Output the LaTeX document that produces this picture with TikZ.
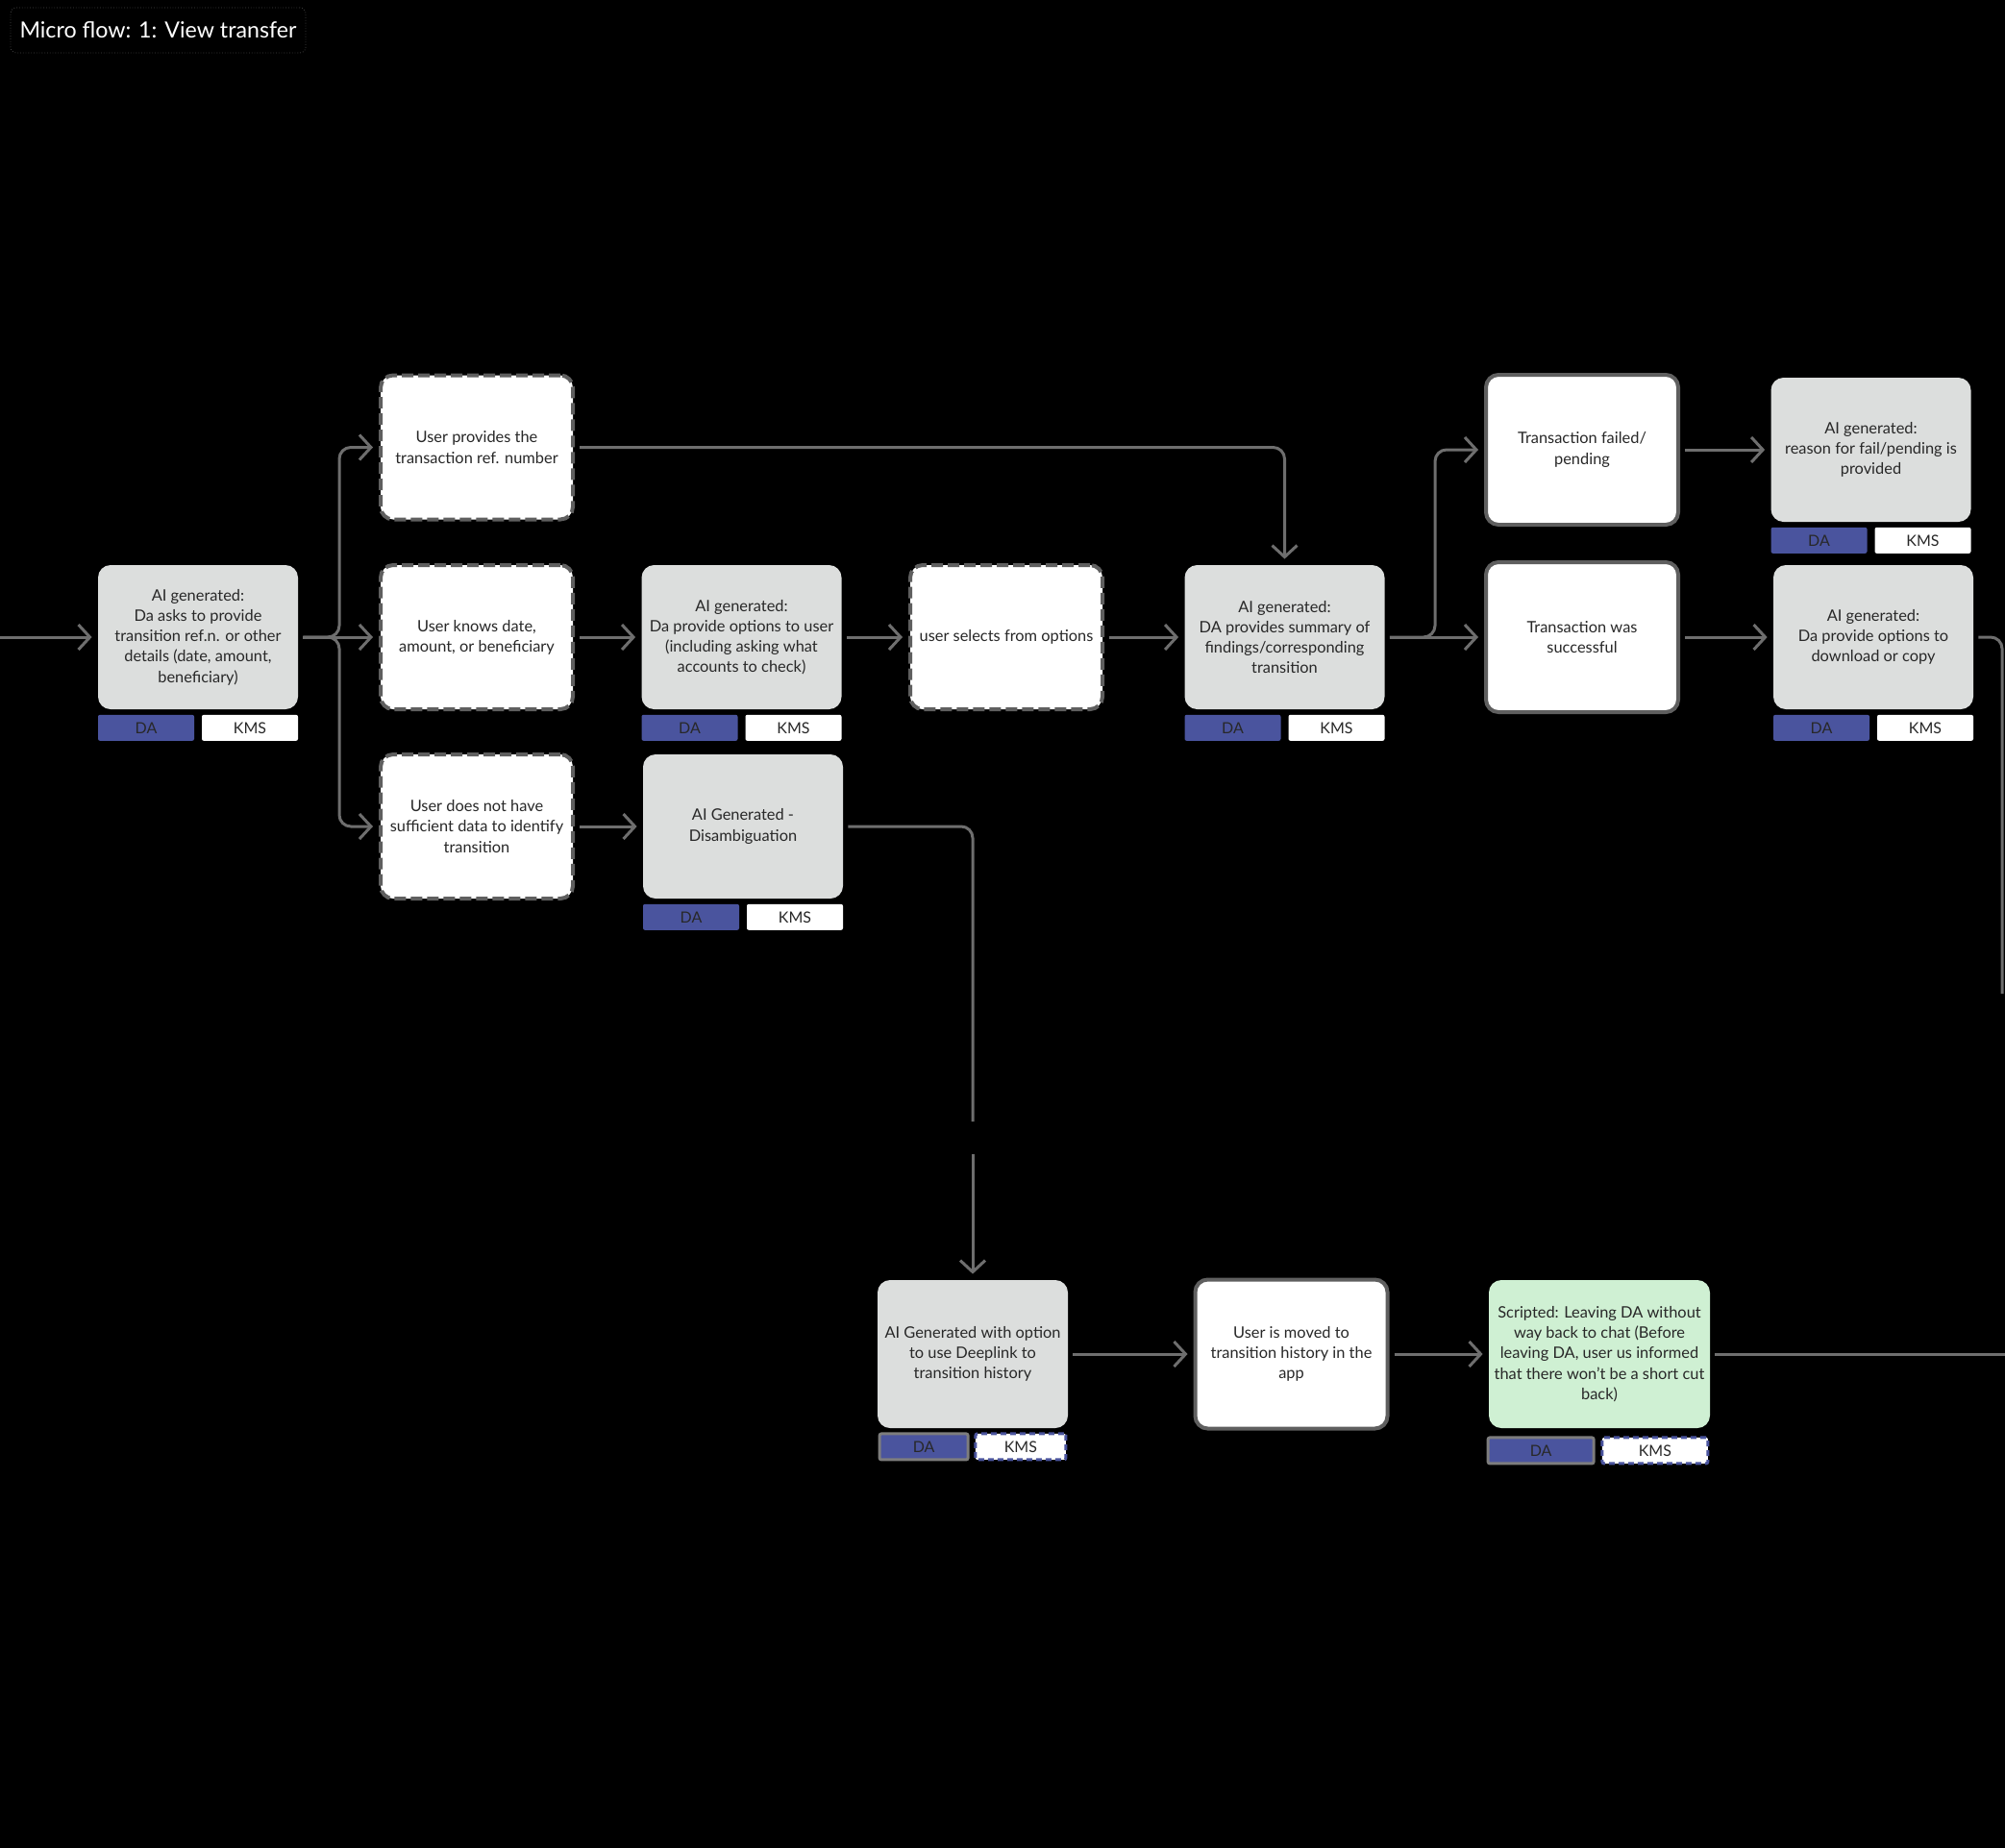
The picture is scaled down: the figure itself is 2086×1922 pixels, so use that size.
\documentclass[tikz,border=0pt]{standalone}
\usepackage{fontspec}
\setmainfont{Lato}
\usetikzlibrary{arrows.meta,positioning}
\definecolor{boxgray}{RGB}{220,222,221}
\definecolor{linegray}{RGB}{110,110,110}
\definecolor{edgegray}{RGB}{95,95,95}
\definecolor{tagedge}{RGB}{125,125,125}
\definecolor{titleedge}{RGB}{70,70,70}
\definecolor{dablue}{RGB}{74,84,158}
\definecolor{mint}{RGB}{207,240,211}
\definecolor{ink}{RGB}{40,40,40}
\tikzset{
  box/.style={rounded corners=6.5pt,minimum width=#1,minimum height=75pt,align=center,
    font=\fontsize{8.2}{10.6}\selectfont,text=ink,inner sep=2pt},
  box/.default=104pt,
  aibox/.style={box=#1,fill=boxgray},
  aibox/.default=104pt,
  userbox/.style={box=100pt,fill=white,draw=edgegray,line width=2pt,dash pattern=on 6pt off 2.5pt},
  endbox/.style={box=100pt,fill=white,draw=edgegray,line width=2pt},
  tagbox/.style={rounded corners=1pt,minimum width=#1,minimum height=13.5pt,inner sep=0pt,
    font=\fontsize{8}{9}\selectfont,text=ink},
  tagbox/.default=50pt,
  datag/.style={tagbox=#1,fill=dablue},
  datag/.default=50pt,
  kmstag/.style={tagbox=#1,fill=white},
  kmstag/.default=50pt,
  title/.style={draw=titleedge,densely dotted,thin,rounded corners=3pt,fill=black,text=white,
    minimum width=153.5pt,minimum height=23.5pt,inner sep=0pt,font=\fontsize{11.6}{13}\selectfont},
  flow/.style={draw=linegray,line width=1.5pt,rounded corners=6pt,shorten <=2.5pt,shorten >=3pt,
    -{Straight Barb[length=6pt,width=13pt]}},
}
\begin{document}
\begin{tikzpicture}[x=0.5pt,y=-0.5pt]
  \useasboundingbox (0,0) rectangle (2086,1922);
  \fill[black] (-6,-6) rectangle (2092,1928);
  \node[title] (title) at (164.5,31.5) {Micro flow: 1: View transfer};

  \node[aibox] (ask) at (206,663) {AI generated:\\Da asks to provide\\transition ref.n. or other\\details (date, amount,\\beneficiary)};
  \node[userbox] (ref) at (496,465.5) {User provides the\\transaction ref. number};
  \node[userbox] (knows) at (496,663) {User knows date,\\amount, or beneficiary};
  \node[userbox] (nodata) at (496,860) {User does not have\\sufficient data to identify\\transition};
  \node[aibox] (opts) at (771.5,663) {AI generated:\\Da provide options to user\\(including asking what\\accounts to check)};
  \node[aibox] (disamb) at (773,860) {AI Generated -\\Disambiguation};
  \node[userbox] (select) at (1047,663) {user selects from options};
  \node[aibox] (summary) at (1336.5,663) {AI generated:\\DA provides summary of\\findings/corresponding\\transition};
  \node[endbox,minimum height=78pt] (failed) at (1646,468) {Transaction failed/\\pending};
  \node[endbox,minimum height=78pt] (success) at (1646,663) {Transaction was\\successful};
  \node[aibox] (reason) at (1946.5,468) {AI generated:\\reason for fail/pending is\\provided};
  \node[aibox] (download) at (1949,663) {AI generated:\\Da provide options to\\download or copy};
  \node[aibox=99pt,minimum height=77pt] (deep) at (1012,1409) {AI Generated with option\\to use Deeplink to\\transition history};
  \node[endbox,minimum height=77.5pt] (moved) at (1343.5,1409) {User is moved to\\transition history in the\\app};
  \node[box=115pt,minimum height=77pt,fill=mint] (scripted) at (1664,1409) {Scripted: Leaving DA without\\way back to chat (Before\\leaving DA, user us informed\\that there won't be a short cut\\back)};

  \foreach \b in {ask,opts,disamb,summary,reason,download}{
    \node[datag,below right=2.5pt and 0pt of \b.south west] (\b-da) {DA};
    \node[kmstag,below left=2.5pt and 0pt of \b.south east] (\b-kms) {KMS};
  }
  \node[datag=46pt,draw=tagedge,line width=1.5pt,below right=2pt and 0.5pt of deep.south west] (deep-da) {DA};
  \node[kmstag=47pt,draw=dablue,line width=1.5pt,dash pattern=on 3pt off 2pt,below left=2pt and 0.5pt of deep.south east] (deep-kms) {KMS};
  \node[datag=55pt,draw=tagedge,line width=1.5pt,below right=4pt and -1pt of scripted.south west] (scripted-da) {DA};
  \node[kmstag=55pt,draw=dablue,line width=1.5pt,dash pattern=on 3pt off 2pt,below left=4pt and 0.5pt of scripted.south east] (scripted-kms) {KMS};

  \coordinate (entry) at (0,663);
  \coordinate (fork) at (353,663);
  \coordinate (fork2) at (1493,663);
  \coordinate (gapA) at (1012,1167);
  \coordinate (gapB) at (1012,1201);
  \coordinate (dlend) at (2083,1034);
  \coordinate (exit) at (2086,1409);

  \draw[flow,shorten <=0pt] (entry) -- (ask.west);
  \draw[flow] (ask.east) -- (knows.west);
  \foreach \t in {ref,nodata} \draw[flow] (ask.east) -- (fork) |- (\t.west);
  \draw[flow] (ref.east) -| (summary.north);
  \foreach \s/\t in {knows/opts,opts/select,select/summary,nodata/disamb,failed/reason,
    success/download,deep/moved,moved/scripted}
    \draw[flow] (\s.east) -- (\t.west);
  \draw[flow] (summary.east) -- (fork2) |- (failed.west);
  \draw[flow] (summary.east) -- (success.west);
  \draw[flow,-,shorten >=0pt] (disamb.east) -| (gapA);
  \draw[flow,shorten <=0pt] (gapB) -- (deep.north);
  \draw[flow,-,shorten >=0pt] (download.east) -| (dlend);
  \draw[flow,-,shorten >=0pt] (scripted.east) -- (exit);
\end{tikzpicture}
\end{document}
